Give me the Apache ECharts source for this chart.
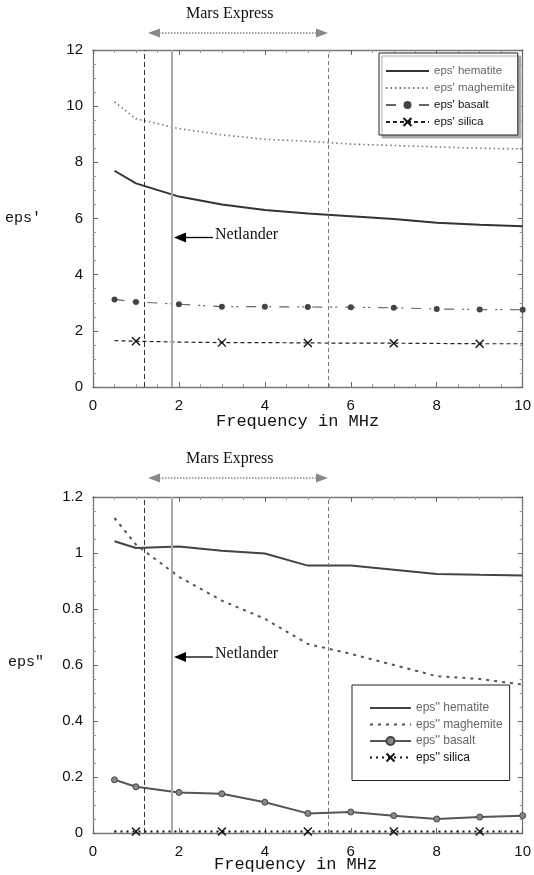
<!DOCTYPE html>
<html><head><meta charset="utf-8">
<script src="https://cdn.jsdelivr.net/npm/echarts@6/dist/echarts.min.js"></script>
<style>html,body{margin:0;padding:0;background:#fff}#c{width:534px;height:875px}</style>
</head><body><div id="c"></div>
<script>
// ---------- data ----------
const freq = [0.5, 1, 2, 3, 4, 5, 6, 7, 8, 9, 10];
const xTicks = [0, 2, 4, 6, 8, 10];
const yTicksReal = [0, 2, 4, 6, 8, 10, 12];
const yTicksImag = [0, 0.2, 0.4, 0.6, 0.8, 1, 1.2];

const realHematite  = [7.7, 7.25, 6.78, 6.5, 6.3, 6.18, 6.08, 5.98, 5.85, 5.78, 5.72];
const realMaghemite = [10.15, 9.55, 9.2, 8.98, 8.82, 8.75, 8.65, 8.6, 8.55, 8.5, 8.48];
const realBasalt    = [3.12, 3.03, 2.95, 2.86, 2.86, 2.85, 2.84, 2.82, 2.78, 2.76, 2.75];
const realSilica    = [1.65, 1.63, 1.6, 1.58, 1.58, 1.57, 1.56, 1.56, 1.55, 1.54, 1.54];

const imagHematite  = [1.042, 1.018, 1.023, 1.008, 0.998, 0.955, 0.955, 0.94, 0.925, 0.922, 0.92];
const imagMaghemite = [1.125, 1.03, 0.915, 0.83, 0.765, 0.675, 0.64, 0.6, 0.56, 0.55, 0.53];
const imagBasalt    = [0.19, 0.165, 0.145, 0.14, 0.11, 0.07, 0.075, 0.062, 0.05, 0.057, 0.062];
const imagSilica    = [0.005, 0.005, 0.005, 0.005, 0.005, 0.005, 0.005, 0.005, 0.005, 0.005, 0.005];

const silicaMarkedAt = [1, 3, 5, 7, 9];
const bandLines = [1.2, 1.83, 5.47];   // Mars Express band edges & Netlander frequency

const namesReal = ["eps' hematite", "eps' maghemite", "eps' basalt", "eps' silica"];
const namesImag = ["eps'' hematite", "eps'' maghemite", "eps'' basalt", "eps'' silica"];

// ---------- helpers ----------
function pts(ys) { return freq.map((f, i) => [f, ys[i]]); }
function silicaPts(ys) {
  return freq.map((f, i) => silicaMarkedAt.includes(f) ? [f, ys[i]] : { value: [f, ys[i]], symbol: 'none' });
}
const X_PATH = 'path://M0,0L10,10M10,0L0,10';
const AX = '#777';
function xAxisPair(gi) {
  const base = {
    gridIndex: gi, type: 'value', min: 0, max: 10, interval: 2,
    axisLine: { show: true, onZero: false, lineStyle: { color: AX, width: 1.3 } },
    axisTick: { show: true, inside: true, length: 5, lineStyle: { color: '#666' } },
    minorTick: { show: true, splitNumber: 4, length: 3, lineStyle: { color: '#999' } },
    splitLine: { show: false }
  };
  return [
    Object.assign({}, base, { position: 'bottom',
      axisLabel: { color: '#111', fontSize: 15, fontFamily: 'Liberation Sans, Arial', margin: 11,
        formatter: v => xTicks.includes(v) ? String(v) : '' } }),
    Object.assign({}, base, { position: 'top', axisLabel: { show: false } })
  ];
}
function yAxisPair(gi, max, interval, ticks) {
  const base = {
    gridIndex: gi, type: 'value', min: 0, max: max, interval: interval,
    axisLine: { show: true, onZero: false, lineStyle: { color: AX, width: 1.3 } },
    axisTick: { show: true, inside: true, length: 5, lineStyle: { color: '#666' } },
    minorTick: { show: true, splitNumber: 4, length: 3, lineStyle: { color: '#999' } },
    splitLine: { show: false }
  };
  return [
    Object.assign({}, base, { position: 'left',
      axisLabel: { color: '#111', fontSize: 15, fontFamily: 'Liberation Sans, Arial', margin: 10,
        formatter: v => { const t = ticks.find(k => Math.abs(k - v) < 1e-9); return t === undefined ? '' : String(t); } } }),
    Object.assign({}, base, { position: 'right', axisLabel: { show: false } })
  ];
}
const bandMarkLine = {
  silent: true, symbol: 'none', label: { show: false }, animation: false,
  data: [
    { xAxis: bandLines[0], lineStyle: { type: [5, 3], color: '#333', width: 1 } },
    { xAxis: bandLines[1], lineStyle: { type: 'solid', color: '#aaa', width: 2 } },
    { xAxis: bandLines[2], lineStyle: { type: [4, 3], color: '#777', width: 1 } }
  ]
};

function arrowGraphics(yText, yArrow, yNet) {
  return [
    { type: 'text', left: 186, top: yText - 9, style: { text: 'Mars Express', font: '16px "Liberation Serif", "Times New Roman", serif', fill: '#111' } },
    { type: 'line', shape: { x1: 156, y1: yArrow, x2: 320, y2: yArrow }, style: { stroke: '#888', lineWidth: 1.5, lineDash: [1.5, 1.5] } },
    { type: 'polygon', shape: { points: [[148, yArrow], [160, yArrow - 4.5], [160, yArrow + 4.5]] }, style: { fill: '#888' } },
    { type: 'polygon', shape: { points: [[328, yArrow], [316, yArrow - 4.5], [316, yArrow + 4.5]] }, style: { fill: '#888' } },
    { type: 'polygon', shape: { points: [[174, yNet], [186, yNet - 5], [186, yNet + 5]] }, style: { fill: '#000' } },
    { type: 'line', shape: { x1: 185, y1: yNet, x2: 213, y2: yNet }, style: { stroke: '#000', lineWidth: 1.3 } },
    { type: 'text', left: 215, top: yNet - 11, style: { text: 'Netlander', font: '16px "Liberation Serif", "Times New Roman", serif', fill: '#111' } }
  ];
}

const chart = echarts.init(document.getElementById('c'), null, { renderer: 'canvas' });
const xs = xAxisPair(0).concat(xAxisPair(1));
const ys = yAxisPair(0, 12, 2, yTicksReal).concat(yAxisPair(1, 1.2, 0.2, yTicksImag));
const LEG_FONT = '"Liberation Sans Narrow", "Arial Narrow", "Liberation Sans", Arial';

const option = {
  animation: false,
  backgroundColor: '#fff',
  grid: [
    { left: 93, right: 11, top: 50, height: 337 },
    { left: 93, right: 11, top: 497, height: 336 }
  ],
  xAxis: xs,
  yAxis: ys,
  legend: [
    {
      data: namesReal.map((n, i) => {
        const d = { name: n, textStyle: { color: i < 2 ? '#666' : '#111' } };
        if (i < 2) d.itemStyle = { opacity: 0 };
        return d;
      }),
      orient: 'vertical', left: 379, top: 53, itemWidth: 43, itemHeight: 10, itemGap: 5,
      padding: [12, 3, 7, 6], borderColor: '#222', borderWidth: 1, backgroundColor: '#fff',
      shadowColor: '#aaa', shadowOffsetX: 3, shadowOffsetY: 3, shadowBlur: 0,
      textStyle: { fontSize: 11.5, lineHeight: 10, fontFamily: LEG_FONT }
    },
    {
      data: namesImag.map((n, i) => {
        const d = { name: n, textStyle: { color: i < 3 ? '#666' : '#111' } };
        if (i < 2) d.itemStyle = { opacity: 0 };
        return d;
      }),
      orient: 'vertical', left: 352, top: 685, itemWidth: 41, itemHeight: 10, itemGap: 4.5,
      padding: [17, 7, 17, 17], borderColor: '#222', borderWidth: 1, backgroundColor: '#fff',
      textStyle: { fontSize: 12, lineHeight: 10, fontFamily: LEG_FONT }
    }
  ],
  series: [
    { name: namesReal[0], type: 'line', xAxisIndex: 0, yAxisIndex: 0, data: pts(realHematite), symbol: 'none',
      color: '#333', lineStyle: { color: '#333', width: 2 }, markLine: bandMarkLine, z: 3 },
    { name: namesReal[1], type: 'line', xAxisIndex: 0, yAxisIndex: 0, data: pts(realMaghemite), symbol: 'none',
      color: '#777', lineStyle: { color: '#777', width: 1.6, type: [1.5, 3] }, z: 3 },
    { name: namesReal[2], type: 'line', xAxisIndex: 0, yAxisIndex: 0, data: pts(realBasalt), symbol: 'circle', symbolSize: 6,
      color: '#444', itemStyle: { color: '#444' }, lineStyle: { color: '#666', width: 1.2, type: [10, 8, 2, 3, 2, 8] }, z: 3 },
    { name: namesReal[3], type: 'line', xAxisIndex: 0, yAxisIndex: 0, data: silicaPts(realSilica), symbol: X_PATH, symbolSize: 8,
      color: '#111', itemStyle: { color: '#111', borderColor: '#111', borderWidth: 1.4 }, lineStyle: { color: '#222', width: 1.2, type: [4, 3] }, z: 3 },

    { name: namesImag[0], type: 'line', xAxisIndex: 2, yAxisIndex: 2, data: pts(imagHematite), symbol: 'none',
      color: '#444', lineStyle: { color: '#444', width: 2 }, markLine: bandMarkLine, z: 3 },
    { name: namesImag[1], type: 'line', xAxisIndex: 2, yAxisIndex: 2, data: pts(imagMaghemite), symbol: 'none',
      color: '#555', lineStyle: { color: '#555', width: 2, type: [3, 5] }, z: 3 },
    { name: namesImag[2], type: 'line', xAxisIndex: 2, yAxisIndex: 2, data: pts(imagBasalt), symbol: 'circle', symbolSize: 6,
      color: '#666', itemStyle: { color: '#888', borderColor: '#444', borderWidth: 1 }, lineStyle: { color: '#555', width: 2 }, z: 3 },
    { name: namesImag[3], type: 'line', xAxisIndex: 2, yAxisIndex: 2, data: silicaPts(imagSilica), symbol: X_PATH, symbolSize: 8,
      color: '#111', itemStyle: { color: '#111', borderColor: '#111', borderWidth: 1.4 }, lineStyle: { color: '#111', width: 2, type: [2, 4] }, z: 3 }
  ],
  graphic: [].concat(
    arrowGraphics(15, 33, 237.5),
    arrowGraphics(460, 478, 657),
    [
      { type: 'text', left: 5, top: 211, style: { text: "eps'", font: '15px "Liberation Mono", "Courier New", monospace', fill: '#111' } },
      { type: 'text', left: 8, top: 655, style: { text: 'eps"', font: '15px "Liberation Mono", "Courier New", monospace', fill: '#111' } },
      { type: 'text', left: 216, top: 413, style: { text: 'Frequency in MHz', font: '17px "Liberation Mono", "Courier New", monospace', fill: '#111' } },
      { type: 'text', left: 214, top: 856, style: { text: 'Frequency in MHz', font: '17px "Liberation Mono", "Courier New", monospace', fill: '#111' } }
    ]
  )
};
chart.setOption(option);
</script>
</body></html>
